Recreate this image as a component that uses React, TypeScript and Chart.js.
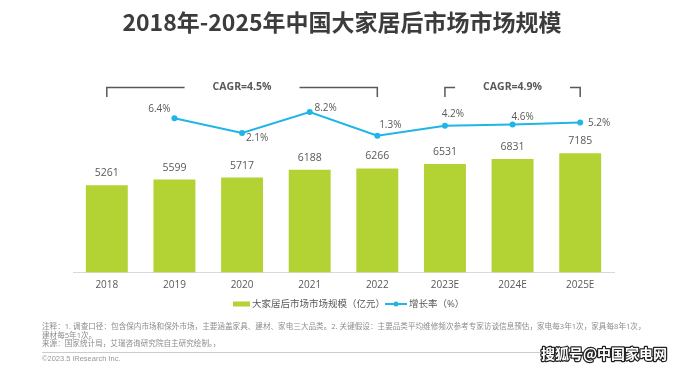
import React, { useEffect, useRef } from "react";
import { Chart, registerables } from "chart.js";

Chart.register(...registerables);

// ---------- data ----------
const CATEGORIES = ["2018", "2019", "2020", "2021", "2022", "2023E", "2024E", "2025E"];
const MARKET_SIZE = [5261, 5599, 5717, 6188, 6266, 6531, 6831, 7185];
const GROWTH: (number | null)[] = [null, 6.4, 2.1, 8.2, 1.3, 4.2, 4.6, 5.2];
const CAGR_LABELS = ["CAGR=4.5%", "CAGR=4.9%"];
const CAGR_SPANS = [
  [0, 4],
  [5, 7],
];
const TITLE = "2018年-2025年中国大家居后市场市场规模";
const LEGEND_BAR = "大家居后市场市场规模（亿元）";
const LEGEND_LINE = "增长率（%）";
const NOTES = [
  "注释：1. 调查口径：包含保内市场和保外市场，主要涵盖家具、建材、家电三大品类。2. 关键假设：主要品类平均维修频次参考专家访谈信息预估，家电每3年1次，家具每8年1次，",
  "建材每5年1次。",
  "来源：国家统计局，艾瑞咨询研究院自主研究绘制。，",
];
const COPYRIGHT = "©2023.5 iResearch Inc.";
const WATERMARK = "搜狐号@中国家电网";

// ---------- styles ----------
const GREEN = "#B3D234";
const BLUE = "#1FB5E6";
const TEXT = "#595959";
const FONT = '"Open Sans", "Noto Sans CJK SC", sans-serif';
const GROWTH_LABEL_OFFSETS: ([number, number] | null)[] = [
  null,
  [-15, -9],
  [15, 5],
  [16, -4],
  [13, -11],
  [8, -12],
  [10, -7],
  [19, 1],
];

const decorPlugin = {
  id: "decor",
  afterDraw(chart: any) {
    const ctx: CanvasRenderingContext2D = chart.ctx;
    const x = chart.scales.x;
    ctx.save();

    // title
    ctx.fillStyle = "#3C3C3C";
    ctx.font = 'bold 23px "Noto Sans CJK SC", sans-serif';
    ctx.textAlign = "center";
    ctx.textBaseline = "middle";
    ctx.fillText(TITLE, 342, 22);

    // bar value labels
    const barMeta = chart.getDatasetMeta(1);
    ctx.font = `10.5px ${FONT}`;
    ctx.fillStyle = TEXT;
    barMeta.data.forEach((el: any, i: number) => {
      ctx.fillText(String(MARKET_SIZE[i]), el.x, el.y - 12);
    });

    // growth labels
    const lineMeta = chart.getDatasetMeta(0);
    ctx.font = `10px ${FONT}`;
    lineMeta.data.forEach((el: any, i: number) => {
      const v = GROWTH[i];
      const off = GROWTH_LABEL_OFFSETS[i];
      if (v == null || !off) return;
      ctx.fillText(v.toFixed(1) + "%", el.x + off[0], el.y + off[1]);
    });

    // CAGR brackets
    const yLine = 87.5;
    const yTick = 97;
    ctx.strokeStyle = "#595959";
    ctx.lineWidth = 1.5;
    ctx.font = `bold 10.5px ${FONT}`;
    CAGR_SPANS.forEach((span, k) => {
      const x0 = x.getPixelForValue(span[0]);
      const x1 = x.getPixelForValue(span[1]);
      const mid = (x0 + x1) / 2;
      const label = CAGR_LABELS[k];
      const half = ctx.measureText(label).width / 2;
      const gap = half + 28;
      ctx.beginPath();
      ctx.moveTo(x0, yTick);
      ctx.lineTo(x0, yLine);
      ctx.lineTo(mid - gap, yLine);
      ctx.moveTo(mid + gap, yLine);
      ctx.lineTo(x1, yLine);
      ctx.lineTo(x1, yTick);
      ctx.stroke();
      ctx.fillStyle = TEXT;
      ctx.fillText(label, mid, yLine);
    });

    // legend
    const ly = 304;
    ctx.fillStyle = GREEN;
    ctx.fillRect(233, ly - 2.5, 17, 5);
    ctx.font = `9.5px ${FONT}`;
    ctx.fillStyle = TEXT;
    ctx.textAlign = "left";
    ctx.fillText(LEGEND_BAR, 252, ly);
    ctx.strokeStyle = BLUE;
    ctx.lineWidth = 2;
    ctx.beginPath();
    ctx.moveTo(385, ly);
    ctx.lineTo(407, ly);
    ctx.stroke();
    ctx.fillStyle = BLUE;
    ctx.beginPath();
    ctx.arc(396, ly, 2.5, 0, Math.PI * 2);
    ctx.fill();
    ctx.fillStyle = TEXT;
    ctx.fillText(LEGEND_LINE, 409, ly);

    // notes
    ctx.font = `7.6px ${FONT}`;
    ctx.fillStyle = "#8C8C8C";
    const noteY = [327, 336, 344];
    NOTES.forEach((t, i) => ctx.fillText(t, 42, noteY[i]));
    ctx.strokeStyle = "#CCCCCC";
    ctx.lineWidth = 1;
    ctx.beginPath();
    ctx.moveTo(42, 352.5);
    ctx.lineTo(644, 352.5);
    ctx.stroke();
    ctx.font = `7.5px "Liberation Sans", Arial, sans-serif`;
    ctx.fillStyle = "#999999";
    ctx.fillText(COPYRIGHT, 42, 359);

    // watermark
    ctx.font = 'bold 14px "Noto Sans CJK SC", sans-serif';
    ctx.lineJoin = "round";
    ctx.lineWidth = 2.5;
    ctx.strokeStyle = "#222222";
    ctx.strokeText(WATERMARK, 541, 354);
    ctx.fillStyle = "#FFFFFF";
    ctx.fillText(WATERMARK, 541, 354);

    ctx.restore();
  },
};

export default function App() {
  const ref = useRef<HTMLCanvasElement | null>(null);
  useEffect(() => {
    if (!ref.current) return;
    const chart = new Chart(ref.current, {
      type: "bar",
      data: {
        labels: CATEGORIES,
        datasets: [
          {
            type: "line",
            label: LEGEND_LINE,
            data: GROWTH,
            yAxisID: "y2",
            borderColor: BLUE,
            backgroundColor: BLUE,
            borderWidth: 2,
            pointRadius: 3,
            pointBackgroundColor: BLUE,
            pointBorderWidth: 0,
            tension: 0,
            order: 0,
          } as any,
          {
            type: "bar",
            label: LEGEND_BAR,
            data: MARKET_SIZE,
            yAxisID: "y",
            backgroundColor: GREEN,
            barPercentage: 0.62,
            categoryPercentage: 1,
            order: 1,
          },
        ],
      },
      options: {
        responsive: false,
        animation: false,
        events: [],
        layout: { padding: { top: 60, left: 73, right: 70, bottom: 73.5 } },
        plugins: {
          legend: { display: false },
          title: { display: false },
          tooltip: { enabled: false },
        },
        scales: {
          x: {
            grid: { display: false, drawTicks: false },
            border: { display: true, color: "#D9D9D9", width: 1 },
            ticks: {
              color: TEXT,
              font: { family: FONT, size: 10 },
              padding: 7,
              maxRotation: 0,
            },
          },
          y: { display: false, min: 0, max: 12800 },
          y2: { display: false, min: -38.6, max: 23.4, position: "right" },
        },
      },
      plugins: [decorPlugin],
    });
    return () => chart.destroy();
  }, []);
  return (
    <div style={{ position: "fixed", left: 0, top: 0, width: 684, height: 372, background: "#fff" }}>
      <canvas ref={ref} width={684} height={372} style={{ display: "block" }} />
    </div>
  );
}
